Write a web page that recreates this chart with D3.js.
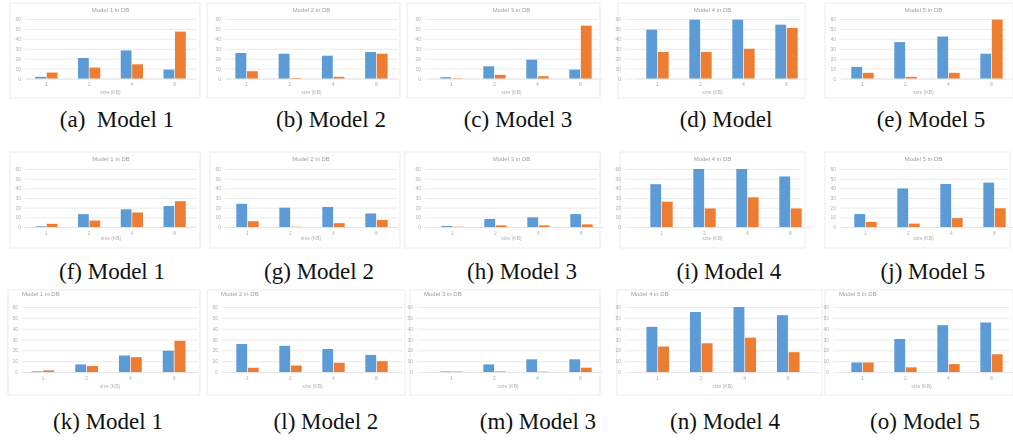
<!DOCTYPE html>
<html>
<head>
<meta charset="utf-8">
<script src="https://cdn.jsdelivr.net/npm/d3@7"></script>
<style>
  body { margin: 0; background: #fff; }
  .caption { white-space: pre; }
</style>
</head>
<body>
<svg id="fig" width="1013" height="447"></svg>
<script>
// ---- data (y in the panel's own units) ----
var captions = ["(a)  Model 1", "(b) Model 2", "(c) Model 3", "(d) Model", "(e) Model 5",
                "(f) Model 1", "(g) Model 2", "(h) Model 3", "(i) Model 4", "(j) Model 5",
                "(k) Model 1", "(l) Model 2", "(m) Model 3", "(n) Model 4", "(o) Model 5"];
var chartTitles = ["Model 1 in DB", "Model 2 in DB", "Model 3 in DB", "Model 4 in DB", "Model 5 in DB",
                   "Model 1 in DB", "Model 2 in DB", "Model 3 in DB", "Model 4 in DB", "Model 5 in DB",
                   "Model 1 in DB", "Model 2 in DB", "Model 3 in DB", "Model 4 in DB", "Model 5 in DB"];
var axisTitle = "size (KB)";
var categories = ["1", "2", "4", "8"];
var yTicks = [0, 10, 20, 30, 40, 50, 60];

var blueValues = [
  [1.7, 20.7, 28.3, 9],
  [25.7, 25, 23, 26.7],
  [1.3, 12.3, 19, 9],
  [49.3, 59.3, 59.3, 54.3],
  [11.7, 36.7, 42.3, 25],
  [0.7, 13.3, 18.3, 21.7],
  [24, 20, 20.7, 14],
  [1, 8.3, 10, 13.3],
  [44.3, 60, 60, 52.3],
  [13.4, 39.9, 44.5, 45.9],
  [0.6, 7, 15.2, 19.7],
  [25.8, 24.2, 21.2, 15.8],
  [0.5, 7, 11.7, 11.7],
  [41.7, 55.4, 60, 52.4],
  [8.8, 30.5, 43.2, 45.7]
];
var orangeValues = [
  [6, 11, 14.3, 47.3],
  [7.3, 0.5, 1.7, 25],
  [0.3, 3.7, 2.3, 53.3],
  [26.7, 26.7, 30, 51],
  [5.7, 1.7, 5.7, 59.3],
  [3.3, 6.7, 15, 26.7],
  [6, 0.3, 4, 7.3],
  [0.3, 1.7, 1.7, 2.7],
  [26.2, 19.2, 30.7, 19.2],
  [5.3, 3.5, 9.2, 19.4],
  [1.5, 5.5, 13.7, 28.8],
  [3.9, 6, 8.5, 10],
  [0.4, 0.5, 0.3, 4],
  [23.5, 26.5, 31.7, 18.3],
  [8.8, 4.3, 7.3, 16.4]
];

// ---- layout ----
// per row: background box, plot top / baseline, title, axis label, caption baseline
var rows = [
  {y0: 3,   y1: 98,  top: 19,  base: 78.5, title: 12,  axis: 94,  cap: 127, titleLeft: false},
  {y0: 152, y1: 248, top: 169, base: 227,  title: 161, axis: 240, cap: 279, titleLeft: false},
  {y0: 290, y1: 395, top: 307, base: 372,  title: 296, axis: 388, cap: 429, titleLeft: true}
];
// per panel: box x, gridline x, band x, caption centre
var cols = [
  {bx: [10, 200],  gx: [25, 196],  band: [25, 196],   cx: 117},
  {bx: [207, 400], gx: [225, 398], band: [225, 398],  cx: 331},
  {bx: [407, 600], gx: [425, 598], band: [430, 602],  cx: 518},
  {bx: [618, 805], gx: [625, 800], band: [636, 808],  cx: 726},
  {bx: [825, 1013], gx: [840, 1007], band: [841, 1013], cx: 931},

  {bx: [10, 200],  gx: [25, 197],  band: [25, 196],   cx: 112},
  {bx: [210, 400], gx: [225, 397], band: [226, 398],  cx: 319},
  {bx: [405, 600], gx: [425, 598], band: [431, 603],  cx: 522},
  {bx: [620, 805], gx: [625, 800], band: [640, 812],  cx: 729},
  {bx: [825, 1010], gx: [840, 1007], band: [844, 1016], cx: 933},

  {bx: [8, 200],   gx: [22, 198],  band: [21, 196],   cx: 108},
  {bx: [207, 405], gx: [222, 403], band: [226, 398],  cx: 326},
  {bx: [410, 600], gx: [417, 600], band: [430, 602],  cx: 538},
  {bx: [617, 822], gx: [625, 820], band: [636, 810],  cx: 725},
  {bx: [825, 1013], gx: [833, 1010], band: [841, 1013], cx: 925}
];

var blue = "#5b9bd5",
    orange = "#ed7d31";

var svg = d3.select("#fig");

svg.append("defs").append("filter")
    .attr("id", "soft")
    .attr("x", "-5%").attr("y", "-5%")
    .attr("width", "110%").attr("height", "110%")
  .append("feGaussianBlur")
    .attr("stdDeviation", 0.75);

captions.forEach(function(cap, i) {
    var r = rows[Math.floor(i / 5)];
    var c = cols[i];

    var g = svg.append("g")
        .attr("class", "panel")
        .attr("filter", "url(#soft)");

    g.append("rect")
        .attr("x", c.bx[0])
        .attr("y", r.y0)
        .attr("width", c.bx[1] - c.bx[0])
        .attr("height", r.y1 - r.y0)
        .attr("fill", "#fff")
        .attr("stroke", "#ececec")
        .attr("stroke-width", 1);

    var x = d3.scaleBand()
        .domain(categories)
        .range(c.band)
        .paddingInner(0.48)
        .paddingOuter(0.24);
    var xs = d3.scaleBand()
        .domain(["blue", "orange"])
        .range([0, x.bandwidth()])
        .paddingInner(0.06);
    var y = d3.scaleLinear()
        .domain([0, d3.max(yTicks)])
        .range([r.base, r.top]);

    // gridlines + y tick labels
    var yAxis = d3.axisLeft(y)
        .tickValues(yTicks)
        .tickSize(-(c.gx[1] - c.gx[0]))
        .tickPadding(4);
    var ya = g.append("g")
        .attr("transform", "translate(" + c.gx[0] + ",0)")
        .call(yAxis);
    ya.select(".domain").remove();
    ya.selectAll(".tick line")
        .attr("stroke", "#e6e6e6")
        .attr("stroke-width", 0.8);
    ya.selectAll(".tick text")
        .attr("fill", "#b0b0b0")
        .style("font-size", "5px")
        .style("font-family", "Liberation Sans, sans-serif");

    // category labels
    var xAxis = d3.axisBottom(x).tickSize(0).tickPadding(4);
    var xa = g.append("g")
        .attr("transform", "translate(0," + r.base + ")")
        .call(xAxis);
    xa.select(".domain").attr("stroke", "#dcdcdc").attr("stroke-width", 0.6);
    xa.selectAll(".tick text")
        .attr("fill", "#b0b0b0")
        .style("font-size", "5px")
        .style("font-family", "Liberation Sans, sans-serif");

    var rowsData = categories.map(function(cat, j) {
        return {cat: cat, blue: blueValues[i][j], orange: orangeValues[i][j]};
    });

    g.selectAll(".grp")
        .data(rowsData)
        .enter().append("g")
        .attr("transform", function(d) { return "translate(" + x(d.cat) + ",0)"; })
        .selectAll("rect")
        .data(function(d) { return [{k: "blue", v: d.blue}, {k: "orange", v: d.orange}]; })
        .enter().append("rect")
        .attr("x", function(d) { return xs(d.k); })
        .attr("y", function(d) { return y(d.v); })
        .attr("width", xs.bandwidth())
        .attr("height", function(d) { return r.base - y(d.v); })
        .attr("fill", function(d) { return d.k == "blue" ? blue : orange; });

    // chart title
    g.append("text")
        .attr("x", r.titleLeft ? c.bx[0] + 14 : (c.gx[0] + c.gx[1]) / 2)
        .attr("y", r.title)
        .attr("text-anchor", r.titleLeft ? "start" : "middle")
        .attr("fill", "#a0a0a0")
        .style("font-size", "6px")
        .style("font-family", "Liberation Sans, sans-serif")
        .text(chartTitles[i]);

    // axis title
    g.append("text")
        .attr("x", (c.gx[0] + c.gx[1]) / 2)
        .attr("y", r.axis)
        .attr("text-anchor", "middle")
        .attr("fill", "#b0b0b0")
        .style("font-size", "5px")
        .style("font-family", "Liberation Sans, sans-serif")
        .text(axisTitle);

    // caption under the panel
    svg.append("text")
        .attr("class", "caption")
        .attr("x", c.cx)
        .attr("y", r.cap)
        .attr("text-anchor", "middle")
        .attr("fill", "#111")
        .style("font-size", "23px")
        .style("font-family", "Liberation Serif, Times New Roman, serif")
        .text(cap);
});
</script>
</body>
</html>
